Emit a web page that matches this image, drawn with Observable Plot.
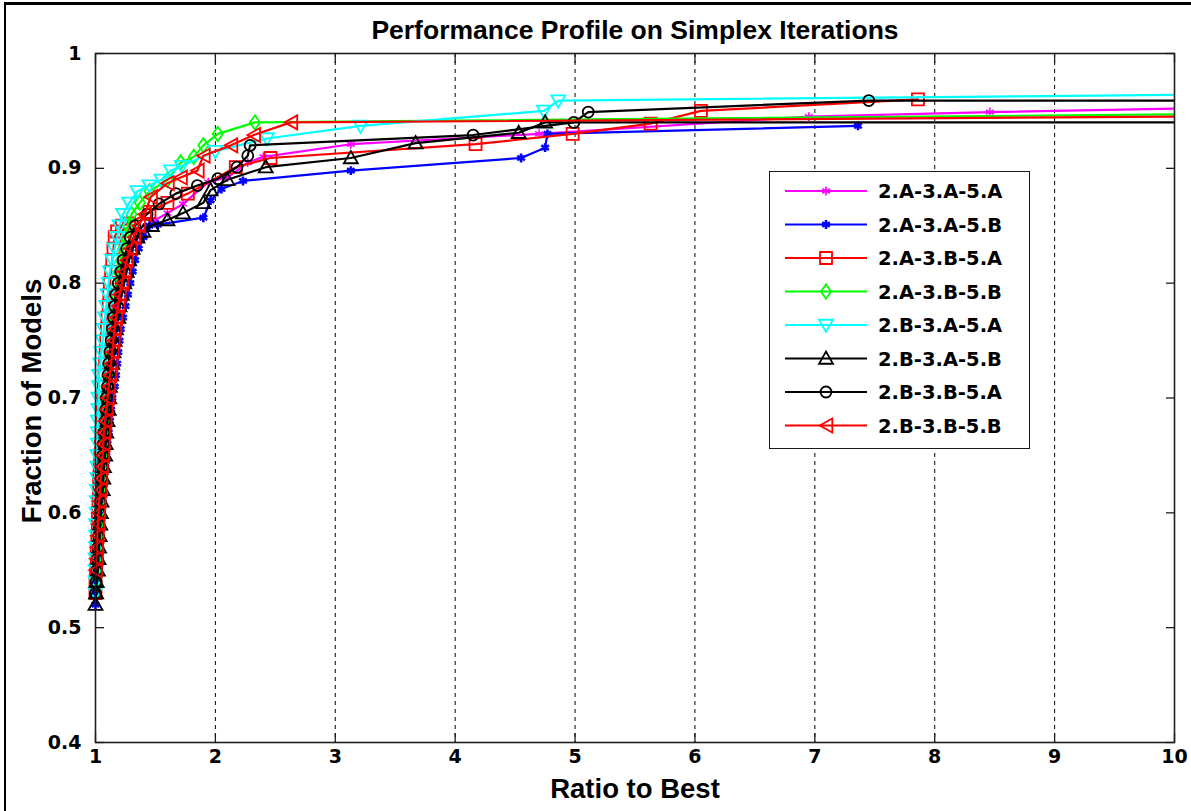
<!DOCTYPE html>
<html><head><meta charset="utf-8">
<script src="https://cdn.jsdelivr.net/npm/d3@7"></script>
<script src="https://cdn.jsdelivr.net/npm/@observablehq/plot@0.6"></script>
<style>
body{margin:0;background:#fff;}
#wrap{position:relative;width:1191px;height:811px;overflow:hidden;background:#fff;}
#border{position:absolute;left:4px;top:2px;right:-10px;bottom:-10px;border-top:3px solid #000;border-left:2px solid #000;pointer-events:none;}
#legend{position:absolute;left:769px;top:171px;width:259px;height:276px;border:1.5px solid #1a1a1a;background:#fff;}
#chart{position:absolute;left:0;top:0;}
</style></head><body>
<div id="wrap"><div id="chart"></div><div id="legend"></div><div id="border"></div></div>
<script>
// ---------- data ----------
const seriesNames = ["2.A-3.A-5.A","2.A-3.A-5.B","2.A-3.B-5.A","2.A-3.B-5.B","2.B-3.A-5.A","2.B-3.A-5.B","2.B-3.B-5.A","2.B-3.B-5.B"];

const s1x = [1.0,1.005,1.01,1.015,1.02,1.025,1.03,1.035,1.04,1.045,1.05,1.055,1.06,1.065,1.07,1.075,1.08,1.09,1.1,1.11,1.12,1.13,1.14,1.15,1.16,1.17,1.19,1.2,1.22,1.25,1.29,1.35,1.42,1.5,1.6,1.73,1.94,2.1,2.27,2.4,3.13,4.7,6.95,8.46,10];
const s1y = [0.53,0.54,0.55,0.56,0.57,0.58,0.59,0.6,0.61,0.62,0.63,0.64,0.65,0.66,0.67,0.68,0.69,0.7,0.71,0.72,0.73,0.74,0.75,0.76,0.77,0.78,0.79,0.8,0.81,0.82,0.83,0.84,0.848,0.855,0.861,0.869,0.888,0.892,0.905,0.91,0.921,0.93,0.945,0.949,0.952];

const s2x = [1.0,1.0,1.01,1.015,1.02,1.03,1.035,1.04,1.05,1.055,1.06,1.07,1.08,1.09,1.1,1.11,1.12,1.13,1.14,1.16,1.17,1.18,1.19,1.2,1.21,1.23,1.25,1.27,1.29,1.31,1.33,1.36,1.4,1.45,1.52,1.9,1.96,2.05,2.23,3.13,4.55,4.75,4.77,7.36];
const s2y = [0.52,0.53,0.54,0.55,0.56,0.57,0.58,0.59,0.6,0.61,0.62,0.63,0.64,0.65,0.66,0.67,0.68,0.69,0.7,0.71,0.72,0.73,0.74,0.75,0.76,0.77,0.78,0.79,0.8,0.81,0.82,0.83,0.84,0.85,0.851,0.857,0.872,0.882,0.889,0.898,0.909,0.918,0.93,0.937];

const s3x = [1.0,1.0,1.005,1.01,1.01,1.015,1.02,1.02,1.025,1.03,1.03,1.035,1.04,1.045,1.05,1.055,1.06,1.065,1.07,1.075,1.08,1.085,1.09,1.095,1.1,1.11,1.115,1.12,1.13,1.14,1.15,1.16,1.18,1.22,1.28,1.45,1.6,1.77,2.17,2.46,4.17,4.98,5.63,6.05,7.86];
const s3y = [0.53,0.54,0.55,0.56,0.57,0.58,0.59,0.6,0.61,0.62,0.63,0.64,0.65,0.66,0.67,0.68,0.69,0.7,0.71,0.72,0.73,0.74,0.75,0.76,0.77,0.78,0.79,0.8,0.81,0.82,0.83,0.84,0.845,0.85,0.852,0.862,0.87,0.878,0.901,0.909,0.921,0.93,0.939,0.95,0.96];

const s4x = [1.0,1.005,1.01,1.015,1.02,1.025,1.03,1.035,1.04,1.045,1.05,1.055,1.06,1.065,1.07,1.075,1.08,1.09,1.1,1.11,1.12,1.13,1.14,1.15,1.16,1.17,1.18,1.19,1.21,1.23,1.25,1.27,1.3,1.37,1.45,1.6,1.71,1.82,1.9,2.02,2.33,10];
const s4y = [0.54,0.55,0.56,0.57,0.58,0.59,0.6,0.61,0.62,0.63,0.64,0.65,0.66,0.67,0.68,0.69,0.7,0.71,0.72,0.73,0.74,0.75,0.76,0.77,0.78,0.79,0.8,0.81,0.82,0.83,0.84,0.85,0.86,0.87,0.88,0.89,0.905,0.91,0.92,0.93,0.94,0.947];

const s5x = [1.0,1.0,1.0,1.0,1.005,1.005,1.005,1.01,1.01,1.01,1.015,1.015,1.015,1.02,1.02,1.02,1.025,1.025,1.03,1.03,1.04,1.05,1.06,1.07,1.08,1.09,1.1,1.11,1.12,1.14,1.16,1.18,1.2,1.23,1.28,1.35,1.45,1.55,1.63,1.72,2.0,2.43,3.21,4.74,4.86,10];
const s5y = [0.53,0.54,0.55,0.56,0.57,0.58,0.59,0.6,0.61,0.62,0.63,0.64,0.65,0.66,0.67,0.68,0.69,0.7,0.71,0.72,0.73,0.74,0.75,0.76,0.77,0.78,0.79,0.8,0.81,0.82,0.83,0.84,0.85,0.86,0.87,0.88,0.885,0.89,0.898,0.902,0.915,0.926,0.937,0.95,0.959,0.964];

const s6x = [1.0,1.005,1.01,1.02,1.025,1.03,1.035,1.04,1.045,1.05,1.06,1.065,1.07,1.08,1.085,1.09,1.1,1.11,1.115,1.12,1.13,1.14,1.15,1.16,1.17,1.19,1.2,1.22,1.24,1.26,1.28,1.31,1.35,1.4,1.47,1.6,1.73,1.9,1.96,2.1,2.42,3.13,3.67,4.53,4.75,10];
const s6y = [0.52,0.53,0.54,0.55,0.56,0.57,0.58,0.59,0.6,0.61,0.62,0.63,0.64,0.65,0.66,0.67,0.68,0.69,0.7,0.71,0.72,0.73,0.74,0.75,0.76,0.77,0.78,0.79,0.8,0.81,0.82,0.83,0.84,0.845,0.85,0.855,0.861,0.87,0.881,0.89,0.901,0.909,0.922,0.931,0.94,0.94];

const s7x = [1.0,1.005,1.01,1.015,1.02,1.025,1.03,1.035,1.04,1.045,1.05,1.055,1.06,1.065,1.07,1.08,1.085,1.09,1.1,1.105,1.11,1.12,1.13,1.14,1.15,1.16,1.17,1.19,1.21,1.23,1.26,1.29,1.33,1.43,1.53,1.67,1.85,2.02,2.18,2.27,2.29,4.15,4.99,5.11,7.45,10];
const s7y = [0.53,0.54,0.55,0.56,0.57,0.58,0.59,0.6,0.61,0.62,0.63,0.64,0.65,0.66,0.67,0.68,0.69,0.7,0.71,0.72,0.73,0.74,0.75,0.76,0.77,0.78,0.79,0.8,0.81,0.82,0.83,0.84,0.85,0.86,0.869,0.878,0.885,0.891,0.901,0.911,0.92,0.929,0.94,0.949,0.959,0.959];

const s8x = [1.0,1.005,1.01,1.015,1.02,1.025,1.03,1.04,1.045,1.05,1.06,1.065,1.07,1.08,1.09,1.1,1.11,1.12,1.13,1.14,1.15,1.16,1.17,1.19,1.2,1.22,1.24,1.26,1.29,1.32,1.36,1.41,1.46,1.6,1.71,1.85,1.9,2.13,2.32,2.63,10];
const s8y = [0.55,0.56,0.57,0.58,0.59,0.6,0.61,0.62,0.63,0.64,0.65,0.66,0.67,0.68,0.69,0.7,0.71,0.72,0.73,0.74,0.75,0.76,0.77,0.78,0.79,0.8,0.81,0.82,0.83,0.84,0.85,0.86,0.875,0.887,0.892,0.898,0.911,0.92,0.929,0.94,0.945];

const xTicks = [1,2,3,4,5,6,7,8,9,10];
const xTickLabels = ["1","2","3","4","5","6","7","8","9","10"];
const xGrid = [2,3,4,5,6,7,8,9];
const yTicks = [0.4,0.5,0.6,0.7,0.8,0.9,1];
const yTickLabels = ["0.4","0.5","0.6","0.7","0.8","0.9","1"];

// ---------- styles ----------
const R = s => Math.sqrt(s / Math.PI);
const sym = {
  square:  {draw(c,s){const r=R(s);c.moveTo(-r,-r);c.lineTo(r,-r);c.lineTo(r,r);c.lineTo(-r,r);c.closePath();}},
  diamond: {draw(c,s){const r=R(s);c.moveTo(0,-r*1.2);c.lineTo(r*0.85,0);c.lineTo(0,r*1.2);c.lineTo(-r*0.85,0);c.closePath();}},
  triDown: {draw(c,s){const r=R(s);c.moveTo(-r,-r*0.75);c.lineTo(r,-r*0.75);c.lineTo(0,r*1.0);c.closePath();}},
  triUp:   {draw(c,s){const r=R(s);c.moveTo(-r,r*0.75);c.lineTo(r,r*0.75);c.lineTo(0,-r*1.0);c.closePath();}},
  triLeft: {draw(c,s){const r=R(s);c.moveTo(-r*0.9,0);c.lineTo(r*0.9,-r);c.lineTo(r*0.9,r);c.closePath();}},
  circle:  {draw(c,s){const r=R(s);c.moveTo(r,0);c.arc(0,0,r,0,2*Math.PI);}},
  asterisk: d3.symbolAsterisk
};
const styles = [
  {color:"#ff00ff", symbol:sym.asterisk, r:4.2, sw:1.6},
  {color:"#0000ff", symbol:sym.asterisk, r:4.2, sw:2.6},
  {color:"#ff0000", symbol:sym.square,   r:6,   sw:1.8},
  {color:"#00ff00", symbol:sym.diamond,  r:6,   sw:1.8},
  {color:"#00ffff", symbol:sym.triDown,  r:7,   sw:1.8},
  {color:"#000000", symbol:sym.triUp,    r:7,   sw:1.8},
  {color:"#000000", symbol:sym.circle,   r:5.5, sw:1.8},
  {color:"#ff0000", symbol:sym.triLeft,  r:7,   sw:1.8}
];

const allX = [s1x,s2x,s3x,s4x,s5x,s6x,s7x,s8x];
const allY = [s1y,s2y,s3y,s4y,s5y,s6y,s7y,s8y];
const series = allX.map((xs,i) => xs.map((x,j) => ({x, y: allY[i][j], k: i})));

const tickFont = {fontFamily:"DejaVu Sans", fontWeight:"bold", fontSize:19};
const frameColor = "#1e1e1e";

const marks = [
  Plot.gridX(xGrid, {stroke:"#000", strokeOpacity:1, strokeWidth:1, strokeDasharray:"4,4"}),
  Plot.axisX(xTicks, {anchor:"bottom", tickSize:0, tickPadding:7, label:null, tickFormat:d => xTickLabels[xTicks.indexOf(d)], ...tickFont, fill:"#000"}),
  Plot.axisY(yTicks, {anchor:"left", tickSize:0, tickPadding:14, label:null, tickFormat:d => yTickLabels[yTicks.indexOf(d)], ...tickFont, fill:"#000"}),
  Plot.axisX(xTicks, {anchor:"bottom", tickSize:-9, text:null, label:null, stroke:frameColor, strokeWidth:1.3}),
  Plot.axisX(xTicks, {anchor:"top", tickSize:-9, text:null, label:null, stroke:frameColor, strokeWidth:1.3}),
  Plot.axisY(yTicks, {anchor:"left", tickSize:-9, text:null, label:null, stroke:frameColor, strokeWidth:1.3}),
  Plot.axisY(yTicks, {anchor:"right", tickSize:-9, text:null, label:null, stroke:frameColor, strokeWidth:1.3}),
];
series.forEach((d,i) => {
  const st = styles[i];
  marks.push(Plot.line(d, {x:"x", y:"y", stroke:st.color, strokeWidth:2.2, clip:true}));
  marks.push(Plot.dot(d.filter(p => p.x < 10), {x:"x", y:"y", symbol:() => st.symbol, r:st.r, stroke:st.color, fill:"none", strokeWidth:st.sw}));
});
marks.push(Plot.frame({stroke:frameColor, strokeWidth:1.6}));
marks.push(Plot.text(["Performance Profile on Simplex Iterations"], {frameAnchor:"top", dy:-23, lineAnchor:"middle", textAnchor:"middle", fontSize:26.5, fontWeight:"bold", fontFamily:"Liberation Sans", fill:"#000"}));
marks.push(Plot.text(["Ratio to Best"], {frameAnchor:"bottom", dy:47, lineAnchor:"middle", textAnchor:"middle", fontSize:27.5, fontWeight:"bold", fontFamily:"Liberation Sans", fill:"#000"}));
marks.push(Plot.text(["Fraction of Models"], {frameAnchor:"left", dx:-63, dy:3, rotate:-90, lineAnchor:"middle", textAnchor:"middle", fontSize:27.5, fontWeight:"bold", fontFamily:"Liberation Sans", fill:"#000"}));

const chart = Plot.plot({
  width:1191, height:811,
  marginLeft:95, marginRight:17, marginTop:53, marginBottom:69,
  x:{type:"linear", domain:[1,10]},
  y:{type:"linear", domain:[0.4,1]},
  symbol:{type:"identity"},
  style:{background:"transparent", overflow:"visible"},
  marks
});
document.getElementById("chart").appendChild(chart);

// ---------- legend ----------
const leg = d3.select("#legend").append("svg").attr("width",259).attr("height",276);
seriesNames.forEach((name,i) => {
  const st = styles[i];
  const cy = 19 + i*33.5;
  const g = leg.append("g").attr("transform",`translate(0,${cy})`);
  g.append("line").attr("x1",15).attr("x2",97).attr("y1",0).attr("y2",0).attr("stroke",st.color).attr("stroke-width",2.2);
  g.append("path").attr("d", d3.symbol(st.symbol, st.r*st.r*Math.PI)()).attr("transform","translate(56,0)")
    .attr("fill","none").attr("stroke",st.color).attr("stroke-width",st.sw);
  g.append("text").attr("x",108).attr("y",0).attr("dy","0.36em").text(name)
    .attr("font-family","DejaVu Sans").attr("font-weight","bold").attr("font-size",19.5).attr("fill","#000");
});
</script>
</body></html>
